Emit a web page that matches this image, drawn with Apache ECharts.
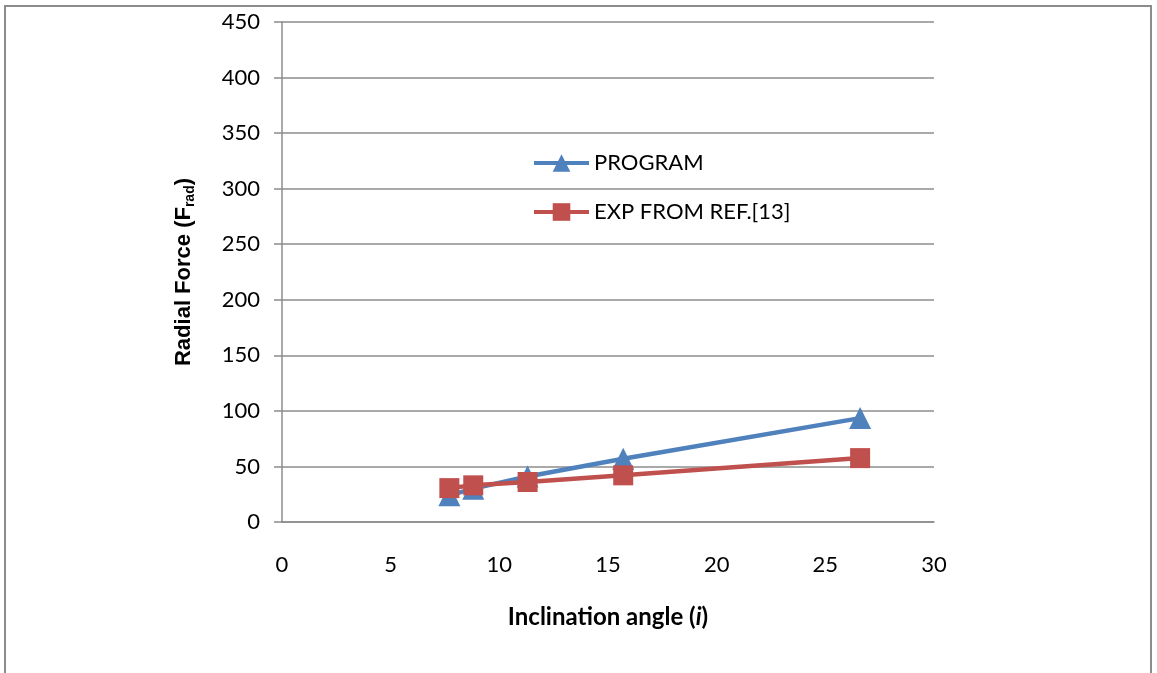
<!DOCTYPE html>
<html>
<head>
<meta charset="utf-8">
<title>Radial Force vs Inclination angle</title>
<script src="https://cdn.jsdelivr.net/npm/echarts@6/dist/echarts.min.js"></script>
<style>
  html, body { margin: 0; padding: 0; background: #fff; }
  #wrap { position: relative; width: 1157px; height: 673px; overflow: hidden; }
  #frame { position: absolute; left: 4px; top: 5px; width: 1148px; height: 720px;
           border: 2px solid #8c8c8c; box-sizing: border-box; }
  #chart { position: absolute; left: 0; top: 0; width: 1157px; height: 673px; }
</style>
</head>
<body>
<div id="wrap">
  <div id="frame"></div>
  <div id="chart"></div>
</div>
<script>
// Inclination angle (i) of each test case
const angles = [7.7, 8.8, 11.3, 15.7, 26.6];
// Radial force computed by the program
const programForce = [24, 30, 41, 57, 93.5];
// Radial force measured experimentally (Ref. [13])
const expForce = [30.5, 33, 36, 42, 57.5];
// Axis ranges and steps
const xRange = [0, 30, 5];
const yRange = [0, 450, 50];

const seriesNames = ['PROGRAM', 'EXP FROM REF.[13]'];
const gridColor = '#8c8c8c';
const labelFont = 'Lato, "Open Sans", sans-serif';

const toPairs = (xs, ys) => xs.map((x, k) => [x, ys[k]]);

const chart = echarts.init(document.getElementById('chart'), null, { renderer: 'canvas' });

chart.setOption({
  animation: false,
  backgroundColor: 'transparent',
  grid: { left: 282, right: 223, top: 22, bottom: 151, containLabel: false },
  legend: {
    orient: 'vertical',
    left: 527,
    top: 147,
    itemWidth: 55,
    itemHeight: 22,
    itemGap: 27,
    lineStyle: { width: 4 },
    textStyle: { fontFamily: labelFont, fontSize: 22, color: '#000' },
    data: seriesNames
  },
  xAxis: {
    type: 'value',
    min: xRange[0], max: xRange[1], interval: xRange[2],
    name: '{b|Inclination angle (}{i|i}{b|)}',
    nameLocation: 'middle',
    nameGap: 83,
    nameTextStyle: {
      rich: {
        b: { fontFamily: labelFont, fontWeight: 'bold', fontSize: 24, color: '#000' },
        i: { fontFamily: labelFont, fontWeight: 'bold', fontStyle: 'italic', fontSize: 24, color: '#000' }
      }
    },
    axisLine: { show: true, lineStyle: { color: gridColor, width: 1.5 } },
    axisTick: { show: false },
    splitLine: { show: false },
    axisLabel: { margin: 32, fontFamily: labelFont, fontSize: 22, color: '#000' }
  },
  yAxis: {
    type: 'value',
    min: yRange[0], max: yRange[1], interval: yRange[2],
    name: '{a|Radial Force (F}{s|rad}{a|)}',
    nameLocation: 'middle',
    nameRotate: 90,
    nameGap: 85,
    nameTextStyle: {
      rich: {
        a: { fontFamily: '"Liberation Sans", Arial, sans-serif', fontWeight: 'bold', fontSize: 22, color: '#000', lineHeight: 26 },
        s: { fontFamily: '"Liberation Sans", Arial, sans-serif', fontWeight: 'bold', fontSize: 14, color: '#000', lineHeight: 26, verticalAlign: 'bottom', padding: [10, 0, 0, 0] }
      }
    },
    axisLine: { show: true, lineStyle: { color: gridColor, width: 1.5 } },
    axisTick: { show: true, inside: false, length: 8, lineStyle: { color: gridColor, width: 1.5 } },
    splitLine: { show: true, lineStyle: { color: gridColor, width: 1.5 } },
    axisLabel: { margin: 22, fontFamily: labelFont, fontSize: 22, color: '#000' }
  },
  series: [
    {
      name: seriesNames[0],
      type: 'line',
      data: toPairs(angles, programForce),
      symbol: 'triangle',
      symbolSize: 22,
      color: '#4f81bd',
      lineStyle: { width: 4.5, color: '#4f81bd' },
      itemStyle: { color: '#4f81bd' },
      z: 2
    },
    {
      name: seriesNames[1],
      type: 'line',
      data: toPairs(angles, expForce),
      symbol: 'rect',
      symbolSize: 20,
      color: '#c0504d',
      lineStyle: { width: 4.5, color: '#c0504d' },
      itemStyle: { color: '#c0504d' },
      z: 3
    }
  ]
});
</script>
</body>
</html>
